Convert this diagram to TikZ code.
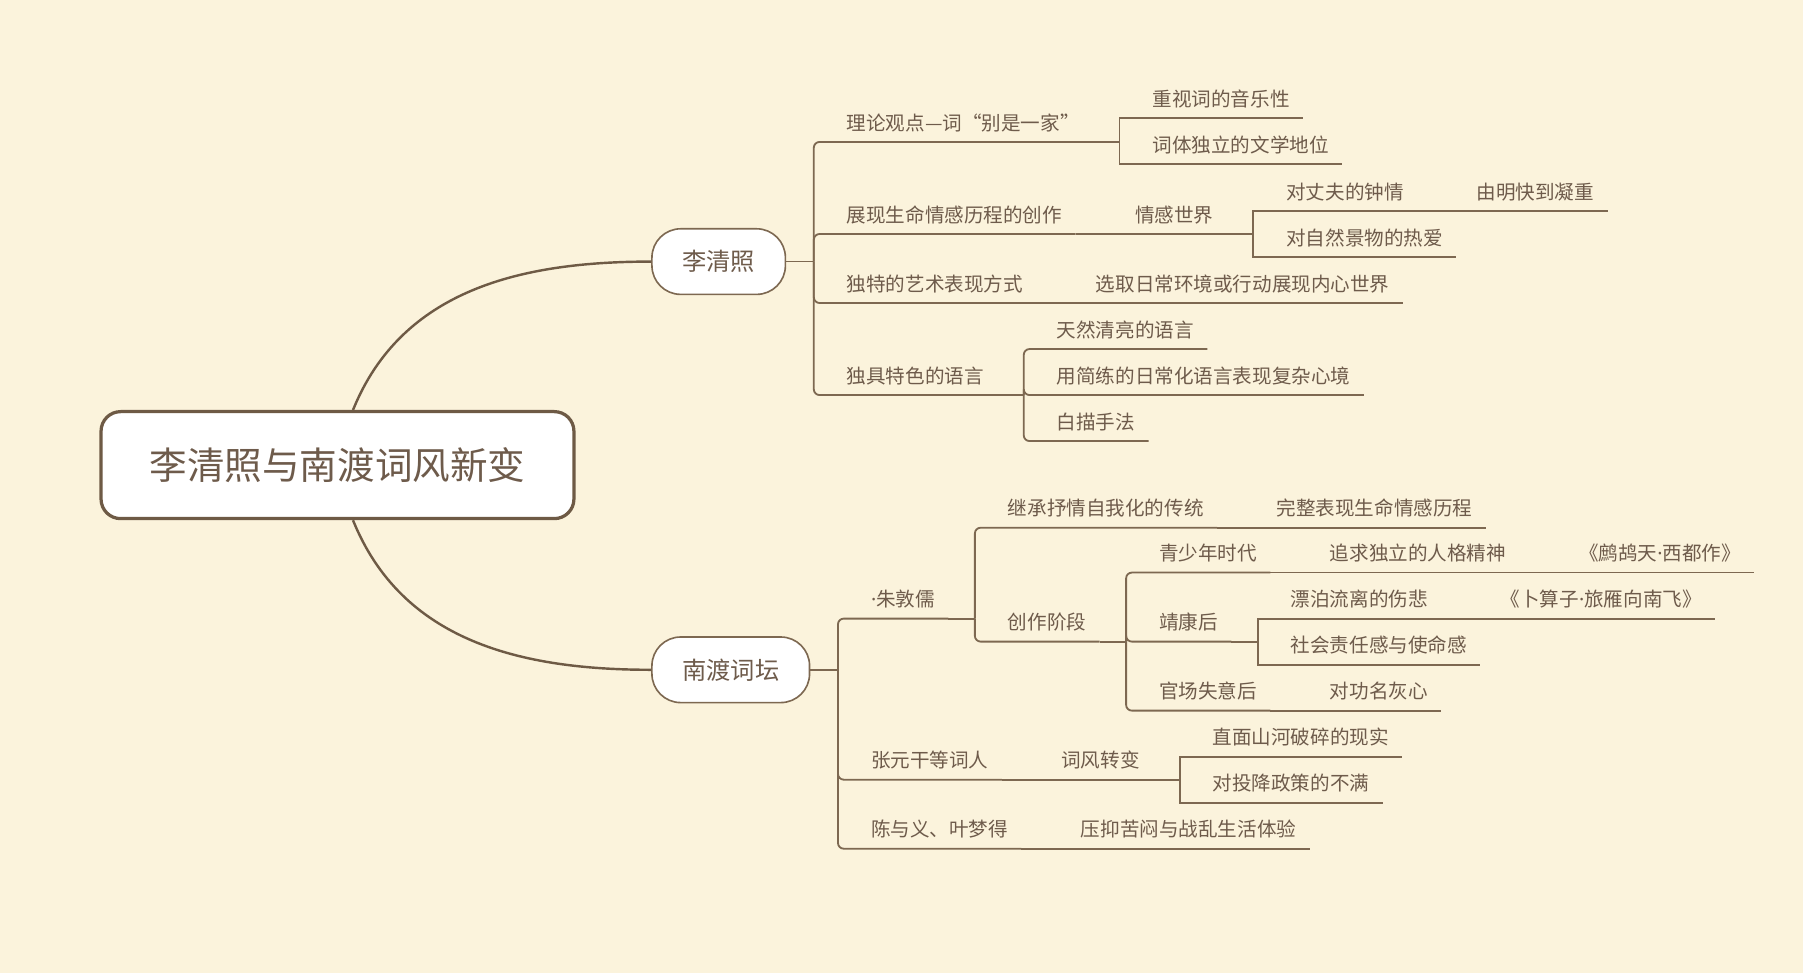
\documentclass[tikz,border=0pt]{standalone}
\usepackage{fontspec}
\setmainfont{Noto Sans CJK SC}
\newfontfamily\dotfont{Noto Sans}
\usetikzlibrary{positioning}
\definecolor{paper}{HTML}{FBF3DC}
\definecolor{ink}{HTML}{6E5B4B}
\definecolor{wire}{HTML}{7D6851}
\definecolor{rim}{HTML}{6E5A45}

\begin{document}
\begin{tikzpicture}[x=0.01cm,y=-0.01cm,
    topic/.style={anchor=south west,inner xsep=0.11cm,inner ysep=2.7pt,text depth=0pt,
                  text=ink,font=\fontsize{4.84pt}{5.8pt}\selectfont},
    hub/.style={draw=wire,line width=0.4pt,fill=white,rounded corners=0.25cm,
                minimum height=0.57cm,text=ink,font=\fontsize{6pt}{7pt}\selectfont},
    core/.style={draw=rim,line width=0.8pt,fill=white,rounded corners=0.17cm,
                 minimum width=4.11cm,minimum height=0.93cm,text=ink,
                 font=\fontsize{9.3pt}{11pt}\selectfont},
    branch/.style={draw=wire,line width=0.45pt},
    fork/.style={branch,rounded corners=0.05cm},
    arc/.style={draw=rim,line width=0.6pt}
  ]
    \fill[paper] (0,0) rectangle (1568,846);

    \node[core] (root) at (293.5,404.5) {李清照与南渡词风新变};
    \node[hub,minimum width=1.16cm] (lqz) at (625,227.5) {李清照};
    \node[hub,minimum width=1.37cm] (ndc) at (635.5,582.5) {南渡词坛};
    \draw[arc] ([xshift=0.135cm]root.north) to[out=68,in=180] (lqz.west);
    \draw[arc] ([xshift=0.135cm]root.south) to[out=-68,in=180] (ndc.west);

    % 李清照
    \node[topic] (lq1) at ([xshift=0.41cm,yshift=1.04cm]lqz.east) {理论观点—词“别是一家”};
    \node[topic] (lq11) at ([xshift=0.40cm,yshift=0.21cm]lq1.south east) {重视词的音乐性};
    \node[topic] (lq12) at ([xshift=0.40cm,yshift=-0.19cm]lq1.south east) {词体独立的文学地位};
    \node[topic] (lq2) at ([xshift=0.41cm,yshift=0.24cm]lqz.east) {展现生命情感历程的创作};
    \node[topic] (lq21) at ([xshift=0.40cm]lq2.south east) {情感世界};
    \node[topic] (lq211) at ([xshift=0.40cm,yshift=0.20cm]lq21.south east) {对丈夫的钟情};
    \node[topic] (lq2111) at ([xshift=0.40cm]lq211.south east) {由明快到凝重};
    \node[topic] (lq212) at ([xshift=0.40cm,yshift=-0.20cm]lq21.south east) {对自然景物的热爱};
    \node[topic] (lq3) at ([xshift=0.41cm,yshift=-0.36cm]lqz.east) {独特的艺术表现方式};
    \node[topic] (lq31) at ([xshift=0.40cm]lq3.south east) {选取日常环境或行动展现内心世界};
    \node[topic] (lq4) at ([xshift=0.41cm,yshift=-1.16cm]lqz.east) {独具特色的语言};
    \node[topic] (lq41) at ([xshift=0.40cm,yshift=0.40cm]lq4.south east) {天然清亮的语言};
    \node[topic] (lq42) at ([xshift=0.40cm]lq4.south east) {用简练的日常化语言表现复杂心境};
    \node[topic] (lq43) at ([xshift=0.40cm,yshift=-0.40cm]lq4.south east) {白描手法};

    \draw[branch] (lqz.east) -- ++(0.24cm,0);
    \draw[fork] ([xshift=0.24cm]lqz.east) |- (lq1.south west) -- (lq1.south east);
    \draw[fork] ([xshift=0.24cm]lqz.east) |- (lq2.south west) -- (lq2.south east);
    \draw[fork] ([xshift=0.24cm]lqz.east) |- (lq3.south west) -- (lq3.south east);
    \draw[fork] ([xshift=0.24cm]lqz.east) |- (lq4.south west) -- (lq4.south east);
    \draw[branch] (lq1.south east) -- ++(0.23cm,0);
    \draw[branch] ([xshift=0.23cm]lq1.south east) |- (lq11.south west) -- (lq11.south east);
    \draw[branch] ([xshift=0.23cm]lq1.south east) |- (lq12.south west) -- (lq12.south east);
    \draw[branch] (lq2.south east) -- (lq21.south east);
    \draw[branch] (lq21.south east) -- ++(0.23cm,0);
    \draw[branch] ([xshift=0.23cm]lq21.south east) |- (lq211.south west) -- (lq211.south east);
    \draw[branch] ([xshift=0.23cm]lq21.south east) |- (lq212.south west) -- (lq212.south east);
    \draw[branch] (lq211.south east) -- (lq2111.south east);
    \draw[branch] (lq3.south east) -- (lq31.south east);
    \draw[branch] (lq4.south east) -- ++(0.23cm,0);
    \draw[fork] ([xshift=0.23cm]lq4.south east) |- (lq41.south west) -- (lq41.south east);
    \draw[fork] ([xshift=0.23cm]lq4.south east) |- (lq42.south west) -- (lq42.south east);
    \draw[fork] ([xshift=0.23cm]lq4.south east) |- (lq43.south west) -- (lq43.south east);

    % 南渡词坛
    \node[topic] (nd1) at ([xshift=0.41cm,yshift=0.445cm]ndc.east) {{\dotfont ·}朱敦儒};
    \node[topic] (nd11) at ([xshift=0.40cm,yshift=0.79cm]nd1.south east) {继承抒情自我化的传统};
    \node[topic] (nd111) at ([xshift=0.40cm]nd11.south east) {完整表现生命情感历程};
    \node[topic] (nd12) at ([xshift=0.40cm,yshift=-0.20cm]nd1.south east) {创作阶段};
    \node[topic] (nd121) at ([xshift=0.40cm,yshift=0.60cm]nd12.south east) {青少年时代};
    \node[topic] (nd1211) at ([xshift=0.40cm]nd121.south east) {追求独立的人格精神};
    \node[topic] (nd12111) at ([xshift=0.40cm]nd1211.south east) {《鹧鸪天{\dotfont ·}西都作》};
    \node[topic] (nd122) at ([xshift=0.40cm]nd12.south east) {靖康后};
    \node[topic] (nd1221) at ([xshift=0.40cm,yshift=0.20cm]nd122.south east) {漂泊流离的伤悲};
    \node[topic] (nd12211) at ([xshift=0.40cm]nd1221.south east) {《卜算子{\dotfont ·}旅雁向南飞》};
    \node[topic] (nd1222) at ([xshift=0.40cm,yshift=-0.20cm]nd122.south east) {社会责任感与使命感};
    \node[topic] (nd123) at ([xshift=0.40cm,yshift=-0.60cm]nd12.south east) {官场失意后};
    \node[topic] (nd1231) at ([xshift=0.40cm]nd123.south east) {对功名灰心};
    \node[topic] (nd2) at ([xshift=0.41cm,yshift=-0.955cm]ndc.east) {张元干等词人};
    \node[topic] (nd21) at ([xshift=0.40cm]nd2.south east) {词风转变};
    \node[topic] (nd211) at ([xshift=0.40cm,yshift=0.20cm]nd21.south east) {直面山河破碎的现实};
    \node[topic] (nd212) at ([xshift=0.40cm,yshift=-0.20cm]nd21.south east) {对投降政策的不满};
    \node[topic] (nd3) at ([xshift=0.41cm,yshift=-1.555cm]ndc.east) {陈与义、叶梦得};
    \node[topic] (nd31) at ([xshift=0.40cm]nd3.south east) {压抑苦闷与战乱生活体验};

    \draw[branch] (ndc.east) -- ++(0.24cm,0);
    \draw[fork] ([xshift=0.24cm]ndc.east) |- (nd1.south west) -- (nd1.south east);
    \draw[fork] ([xshift=0.24cm]ndc.east) |- (nd2.south west) -- (nd2.south east);
    \draw[fork] ([xshift=0.24cm]ndc.east) |- (nd3.south west) -- (nd3.south east);
    \draw[branch] (nd1.south east) -- ++(0.23cm,0);
    \draw[fork] ([xshift=0.23cm]nd1.south east) |- (nd11.south west) -- (nd11.south east);
    \draw[fork] ([xshift=0.23cm]nd1.south east) |- (nd12.south west) -- (nd12.south east);
    \draw[branch] (nd11.south east) -- (nd111.south east);
    \draw[branch] (nd12.south east) -- ++(0.23cm,0);
    \draw[fork] ([xshift=0.23cm]nd12.south east) |- (nd121.south west) -- (nd121.south east);
    \draw[fork] ([xshift=0.23cm]nd12.south east) |- (nd122.south west) -- (nd122.south east);
    \draw[fork] ([xshift=0.23cm]nd12.south east) |- (nd123.south west) -- (nd123.south east);
    \draw[branch] (nd121.south east) -- (nd12111.south east);
    \draw[branch] (nd122.south east) -- ++(0.23cm,0);
    \draw[branch] ([xshift=0.23cm]nd122.south east) |- (nd1221.south west) -- (nd1221.south east);
    \draw[branch] ([xshift=0.23cm]nd122.south east) |- (nd1222.south west) -- (nd1222.south east);
    \draw[branch] (nd1221.south east) -- (nd12211.south east);
    \draw[branch] (nd123.south east) -- (nd1231.south east);
    \draw[branch] (nd2.south east) -- (nd21.south east);
    \draw[branch] (nd21.south east) -- ++(0.23cm,0);
    \draw[branch] ([xshift=0.23cm]nd21.south east) |- (nd211.south west) -- (nd211.south east);
    \draw[branch] ([xshift=0.23cm]nd21.south east) |- (nd212.south west) -- (nd212.south east);
    \draw[branch] (nd3.south east) -- (nd31.south east);
\end{tikzpicture}
\end{document}
